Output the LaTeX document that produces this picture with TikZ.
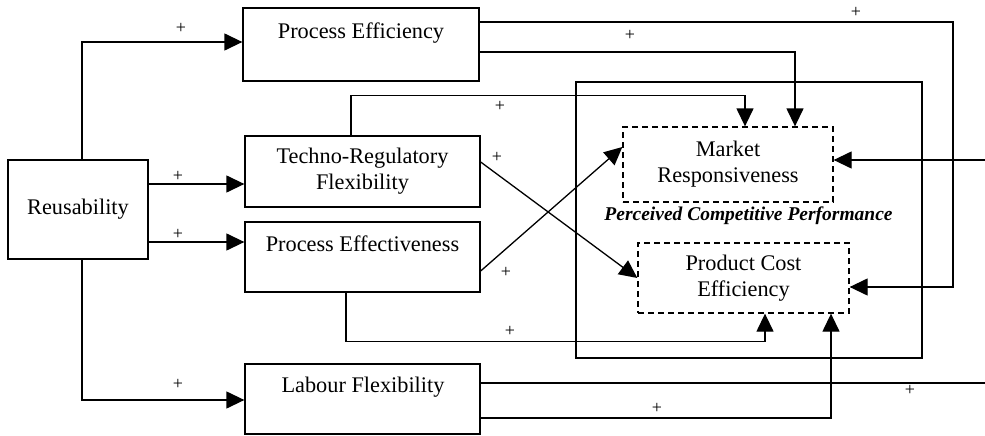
\documentclass[tikz,border=0pt]{standalone}
\usepackage{fontspec}
\setmainfont{Liberation Serif}
\usetikzlibrary{arrows.meta}
\begin{document}
\begin{tikzpicture}[x=1pt,y=-1pt,
  line width=1.3pt,
  box/.style={draw,rectangle,inner sep=0pt},
  dbox/.style={draw,rectangle,inner sep=0pt,dash pattern=on 6pt off 4pt,
    font=\fontsize{22.3}{26}\selectfont,align=center},
  lbl/.style={inner sep=0pt,font=\fontsize{22.3}{26}\selectfont,align=center},
  sign/.style={inner sep=0pt,font=\fontsize{18}{18}\selectfont},
  arr/.style={-{Triangle[length=18pt,width=17pt]}}]
\useasboundingbox (0,0) rectangle (985,436);

% boxes
\node[box,lbl,minimum width=140pt,minimum height=99pt] (reu) at (78,209.5) {Reusability};
\node[box,minimum width=236pt,minimum height=73pt] (peff) at (361,44.5) {};
\node[lbl] (pefftxt) at (361,33) {Process Efficiency};
\node[box,lbl,minimum width=235pt,minimum height=71pt] (trf) at (362.5,171.5) {Techno-Regulatory\\Flexibility};
\node[box,minimum width=235pt,minimum height=70pt] (pefv) at (362.5,257) {};
\node[lbl] (pefvtxt) at (362.5,244) {Process Effectiveness};
\node[box,minimum width=235pt,minimum height=70pt] (lab) at (362.5,399) {};
\node[lbl] (labtxt) at (363,387) {Labour Flexibility};

% perceived competitive performance
\node[box,minimum width=346pt,minimum height=276pt] (pcp) at (749,220) {};
\node[inner sep=0pt,font=\fontsize{19.5}{22}\selectfont\bfseries\itshape] (pcptxt) at (748.5,216) {Perceived Competitive Performance};
\node[dbox,minimum width=210pt,minimum height=75pt] (mr) at (728,164.5) {Market\\Responsiveness};
\node[dbox,minimum width=211pt,minimum height=70pt] (pce) at (743.5,278) {Product Cost\\Efficiency};

% links from the right margin
\coordinate (inR) at (985,160);
\coordinate (outR) at (985,383);

% reusability links
\draw[arr] ([xshift=4pt]reu.north) |- ([yshift=2.5pt]peff.west);
\draw[arr] ([yshift=-12.5pt]trf.west -| reu.east) -- ([yshift=-12.5pt]trf.west);
\draw[arr] ([yshift=15pt]pefv.west -| reu.east) -- ([yshift=15pt]pefv.west);
\draw[arr] ([xshift=4pt]reu.south) |- ([yshift=-1pt]lab.west);

% process efficiency links
\draw[arr] ([yshift=22.5pt]peff.east) -- (953,22) |- ([yshift=-9pt]pce.east);
\draw[arr] ([yshift=-7.5pt]peff.east) -| ([xshift=67pt]mr.north);

% techno-regulatory flexibility links
\draw[arr] ([xshift=-11.5pt]trf.north) -- ++(0,-40) -| ([xshift=17pt]mr.north);
\draw[arr] ([yshift=9.5pt]trf.east) -- (pce.west);

% process effectiveness links
\draw[arr] ([yshift=-14pt]pefv.east) -- ([yshift=17.5pt]mr.west);
\draw[arr] ([xshift=-16.5pt]pefv.south) -- ++(0,49) -| ([xshift=21.5pt]pce.south);

% labour flexibility links
\draw (lab.east |- outR) -- (outR);
\draw[arr] ([yshift=-19pt]lab.east) -| ([xshift=87.5pt]pce.south);

% incoming link to market responsiveness
\draw[arr] (inR) -- (mr.east |- inR);

% signs
\node[sign] (s1) at (181,28) {+};
\node[sign] (s2) at (178,176) {+};
\node[sign] (s3) at (178,234) {+};
\node[sign] (s4) at (178,384) {+};
\node[sign] (s5) at (856,12) {+};
\node[sign] (s6) at (630,35) {+};
\node[sign] (s7) at (500,106) {+};
\node[sign] (s8) at (497,157) {+};
\node[sign] (s9) at (506,272) {+};
\node[sign] (s10) at (510,331) {+};
\node[sign] (s11) at (657,408) {+};
\node[sign] (s12) at (910,390) {+};
\end{tikzpicture}
\end{document}
